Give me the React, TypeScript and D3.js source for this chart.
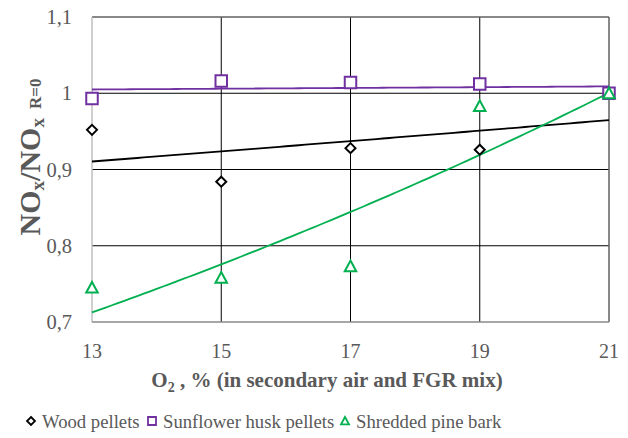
import React from "react";
import * as d3 from "d3";

const xValues = [13, 15, 17, 19, 21];
const woodPellets = [0.952, 0.884, 0.928, 0.926, 1.0];
const sunflowerHusk = [0.993, 1.016, 1.014, 1.012, 1.0];
const pineBark = [0.745, 0.758, 0.773, 0.983, 1.0];
const xTicks = [13, 15, 17, 19, 21];
const yTicks = [0.7, 0.8, 0.9, 1.0, 1.1];
const seriesNames = ["Wood pellets", "Sunflower husk pellets", "Shredded pine bark"];
const seriesColors = ["#000000", "#7030a0", "#00b050"];

const W = 628;
const H = 438;
const x = d3.scaleLinear().domain([13, 21]).range([92, 609]);
const y = d3.scaleLinear().domain([0.7, 1.1]).range([322, 17]);

function expFit(xs: number[], ys: number[]) {
  const ly = ys.map((v) => Math.log(v));
  const mx = d3.mean(xs) as number;
  const my = d3.mean(ly) as number;
  let num = 0;
  let den = 0;
  xs.forEach((xv, i) => {
    num += (xv - mx) * (ly[i] - my);
    den += (xv - mx) * (xv - mx);
  });
  const b = num / den;
  const a = my - b * mx;
  return (xv: number) => Math.exp(a + b * xv);
}

function markerPath(kind: string, s: number) {
  const h = s / 2;
  if (kind === "diamond") return `M0,${-h}L${h},0L0,${h}L${-h},0Z`;
  if (kind === "square") return `M${-h},${-h}H${h}V${h}H${-h}Z`;
  return `M0,${-h}L${h},${h * 0.85}L${-h},${h * 0.85}Z`;
}

const kinds = ["diamond", "square", "triangle"];
const allSeries = [woodPellets, sunflowerHusk, pineBark];
const textColor = "#595959";
const serif = { fontFamily: '"Liberation Serif", "Times New Roman", Times, serif' };

export default function App() {
  const line = d3
    .line<number>()
    .x((d) => x(d[0]))
    .y((d) => y(d[1]));
  const samples = d3.range(13, 21.0001, 0.1);

  return (
    <svg width={W} height={H} style={{ display: "block", position: "absolute", left: 0, top: 0 }}>
      <rect x={0} y={0} width={W} height={H} fill="#fff" />
      {yTicks.filter((t) => t > 0.7 && t < 1.1).map((t) => (
        <line key={"gy" + t} x1={x(13)} x2={x(21)} y1={y(t)} y2={y(t)} stroke="#000" strokeWidth={1} />
      ))}
      {xTicks.filter((t) => t > 13 && t < 21).map((t) => (
        <line key={"gx" + t} x1={x(t)} x2={x(t)} y1={y(0.7)} y2={y(1.1)} stroke="#000" strokeWidth={1} />
      ))}
      <line x1={x(13)} x2={x(21)} y1={y(1.1)} y2={y(1.1)} stroke="#606060" strokeWidth={1.5} />
      <line x1={x(21)} x2={x(21)} y1={y(0.7)} y2={y(1.1)} stroke="#606060" strokeWidth={1.5} />
      <line x1={x(13)} x2={x(13)} y1={y(0.7)} y2={y(1.1)} stroke="#bfbfbf" strokeWidth={1.5} />
      <line x1={x(13)} x2={x(21)} y1={y(0.7)} y2={y(0.7)} stroke="#8a8a8a" strokeWidth={1.5} />
      {yTicks.map((t) => (
        <text key={"ty" + t} x={72} y={y(t)} dy="0.35em" textAnchor="end" fontSize={20.5} fill={textColor} style={serif}>
          {d3.format(".1f")(t).replace(".0", "").replace(".", ",")}
        </text>
      ))}
      {xTicks.map((t) => (
        <text key={"tx" + t} x={x(t)} y={358} textAnchor="middle" fontSize={20} fill={textColor} style={serif}>
          {t}
        </text>
      ))}
      {allSeries.map((s, i) => {
        const f = expFit(xValues, s);
        return (
          <path key={"tr" + i} d={line(samples.map((xv) => [xv, f(xv)]) as any) as string} fill="none" stroke={seriesColors[i]} strokeWidth={1.8} />
        );
      })}
      {allSeries.map((s, i) =>
        s.map((v, j) => (
          <path
            key={"m" + i + "-" + j}
            d={markerPath(kinds[i], i === 0 ? 10 : 11.5)}
            transform={`translate(${x(xValues[j])},${y(v)})`}
            fill="#fff"
            stroke={seriesColors[i]}
            strokeWidth={2}
          />
        ))
      )}
      <text x={327} y={387} textAnchor="middle" fontSize={21} fontWeight="bold" fill={textColor} style={serif}>
        <tspan>O</tspan>
        <tspan fontSize={14} dy={5}>2</tspan>
        <tspan dy={-5}> , % (in secondary air and FGR mix)</tspan>
      </text>
      <text transform="translate(40,157) rotate(-90)" textAnchor="middle" fontSize={30} fontWeight="bold" fill={textColor} style={serif}>
        <tspan>NO</tspan>
        <tspan fontSize={19} dy={4}>x</tspan>
        <tspan dy={-4}>/NO</tspan>
        <tspan fontSize={19} dy={4}>x</tspan>
        <tspan fontSize={17} dx={9} dy={-3}>R=0</tspan>
      </text>
      {seriesNames.map((n, i) => {
        const mx = [31, 152, 345][i];
        return (
          <g key={"lg" + i}>
            <path d={markerPath(kinds[i], 8)} transform={`translate(${mx},421)`} fill="#fff" stroke={seriesColors[i]} strokeWidth={1.8} />
            <text x={mx + 11} y={428} fontSize={18.7} fill={textColor} style={serif}>
              {n}
            </text>
          </g>
        );
      })}
    </svg>
  );
}
